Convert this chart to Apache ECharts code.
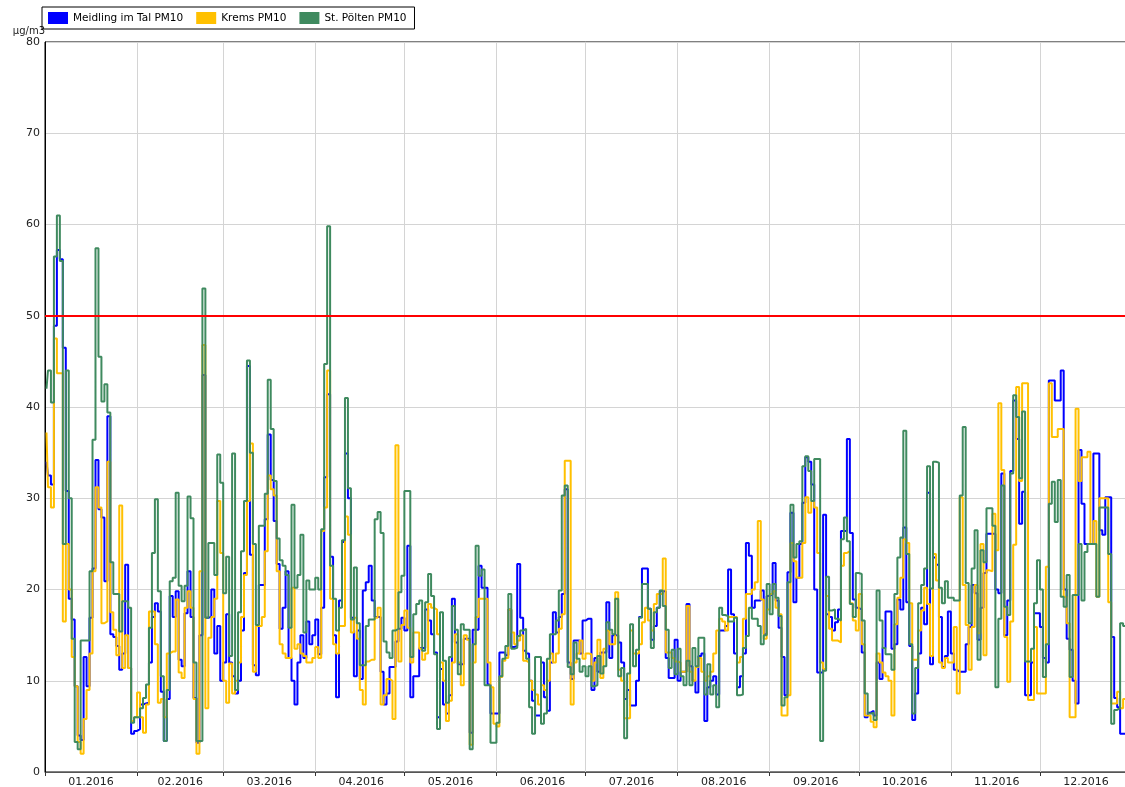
<!DOCTYPE html>
<html>
<head>
<meta charset="utf-8">
<script src="https://cdn.jsdelivr.net/npm/echarts@6/dist/echarts.min.js"></script>
<style>
html,body{margin:0;padding:0;background:#fff;}
#chart{width:1125px;height:787px;}
</style>
</head>
<body>
<div id="chart"></div>
<script>
// ---- data ----
const monthDays = [31,29,31,30,31,30,31,31,30,31,30,31];
const monthLabels = ['01.2016','02.2016','03.2016','04.2016','05.2016','06.2016','07.2016','08.2016','09.2016','10.2016','11.2016','12.2016'];
const seriesNames = ['Meidling im Tal PM10','Krems PM10','St. Pölten PM10'];
const limitValue = 50;

const meidling = [
34,32.5,31.5,48.9,57.2,56.2,46.5,30.8,19,16.7,9.4,4,3.5,12.6,9.4,16.9,22.3,34.2,28.8,27.9,20.9,39,15.1,14.8,13.8,11.2,13,22.7,11.4,4.2,4.5,
4.7,7.4,7.5,7.6,12,17,18.5,17.6,8.8,3.4,8,19.3,17,19.8,12.3,11.6,17.4,22,17,8.1,3.2,15,43.5,16.9,17,20,13,16,10,
12,17.3,12,10.5,8.6,10,15.5,21.8,44.5,23.8,11.7,10.6,20.5,20.5,27.7,37,32,27.5,22.8,15.7,18,22,12.5,10,7.4,12,15,12.5,16.5,14,15,
16.7,12.9,18,32.3,41.4,23.6,15,8.2,18.8,25.2,34.9,30,16.9,10.5,15.5,10.2,19.9,20.8,22.6,18.8,17,17,11,7.4,8.6,11.5,11.5,14.3,15.7,16.9,
15.5,24.8,8.2,10.5,10.5,13.6,13.6,17.8,16.6,15.1,13.1,6,11.3,7.4,6.4,8.4,19,14.2,11.8,11.8,14.6,14.6,4.3,15.6,15.6,22.6,20.2,20.2,9.6,6.4,6.4,
6.4,13.1,13.1,12.8,17.8,13.7,13.8,22.8,16.9,13.3,13,10,7.8,6.2,6.2,12,8.2,6.7,12,17.5,15.3,17,19.5,31,12,10.2,14.4,14.4,13,16.6,
16.8,16.8,9,12.5,11,13.1,13.1,18.6,12.5,15,15,14.2,12,8,9,7.3,7.3,10,17,22.3,22.3,17.9,14.5,16,18,19.8,19.8,12.5,10.3,10.3,14.5,
10,11,11,18.4,11.6,10,8.7,12.7,13,5.6,9.3,10,10.5,8.5,15.5,15.5,16,22.2,17.3,13,9.3,10.5,13,25.1,23.7,18,18.8,18.8,19.9,15.1,19.3,
19.5,22.9,18.8,15.8,12.6,8.4,21.9,28.4,18.6,21.3,25,29.5,34.5,34,31.5,20,10.9,10.9,28.2,17.3,17,15.5,16.4,17.8,26.4,26.4,36.5,26.2,18.9,18,
17.8,13.1,6,6.5,6.7,6.2,12,10.2,13.6,17.6,17.6,13.5,14,18.9,17.8,26.8,18.6,13.8,5.7,8.6,13,18,16.2,30.6,11.8,23.5,22.7,17,11.5,12.7,17.6,
13,11.2,11,11,11,14,15.9,20.5,19.6,14.5,18,21.8,26.1,26.1,26.1,20,19.6,32.7,15,18.8,33,40.7,36.5,27.2,30.7,8.4,8.4,12,17.4,17.4,
15.9,12.5,12,42.9,42.9,40.7,40.7,44,20,14.6,13.4,10,7.5,35.3,29.4,25,25,25,34.9,34.9,26.5,26,30.1,30.1,14.8,8.1,7.1,4.2,4.2,6,8
];

const krems = [
37.2,31.2,29,47.5,43.7,43.7,16.5,25,20,12.6,9.4,3.3,2,5.8,9,13,22,31.2,29,16.3,16.5,34,17.5,15.6,12.8,29.2,11.4,15,11.4,5.6,6,
8.7,6,4.3,7.4,17.6,17.6,14,7.6,8,6,13,13.2,13.2,18.9,10.9,10.3,18,19.8,18,8,2,22,46.8,7,14.7,17,19,29.7,24,
10,7.6,11.9,8.6,10,12,17,21.6,29.7,36,11,16,16,17,24.2,32.5,31,30.3,22,14,13,12.5,12.5,20.2,13.5,14,13,12.7,12,12,12.5,
13.7,12.5,26.4,29,44,19,14,13,16,16,28,26,15.3,16.9,14.6,9,7.4,12.1,12.3,12.3,16.9,18,7.4,8.4,10.2,10,5.8,35.8,12.1,16.1,
17.7,15.8,12,15.3,15.3,13.5,12.3,13,18.4,18,17.8,15.1,12,10,5.6,7.8,12,15.1,12,9.5,15,14.5,3,12,17,19,19,19,12,9.3,5.3,
5,10.4,12.2,12.5,17.8,15.3,14,14.4,15,12.2,12,10,9,8.5,7.4,9.5,9,10,13,12,13,15.7,17.3,34.1,34.1,7.4,12,13,14.4,12.4,
13,12.9,10,12,14.5,10.3,13.5,15.5,14,14,19.7,11.2,10,5.9,5.9,15.5,13,13,14,16.4,18,16.6,15.5,18.4,19.5,19.5,23.4,13.1,13.1,12.5,12.1,
12,11,11,18.2,11,10,11.5,12.5,11,10,10.5,11,13,15.5,16.8,16.5,15.5,17,17,17,12,12.6,16.8,19.5,19.5,20,20.8,27.5,18.9,14.6,17.8,
19.5,19.8,18,17.3,6.2,6.2,8.4,25.1,23.1,21.3,21.3,25.1,30.1,28.4,29.7,29,24,12,11.3,19.3,15.7,14.4,14.4,14.2,22.6,24,24.2,18.5,16.6,15.5,
19.5,14,6.2,6.2,5.5,4.9,13,12,10.9,10.5,10,6.2,16.2,19.1,21.3,25.5,25.1,18.5,12.3,12.3,15.5,17.7,20.2,18.4,12.7,23.9,21,12,11.4,12.5,12,
12,15.9,8.6,30.1,20.5,16.1,11.2,15.9,20.5,15.2,25,12.8,22.1,22,28.3,24.3,40.4,33.1,14.8,9.9,16.5,24.9,42.2,31.9,42.6,42.6,7.9,7.9,15.9,8.6,
8.6,8.6,22.5,42.6,36.7,36.7,37.6,37.6,19.2,16.3,6,6,39.8,31.9,34.5,34.5,35.1,25,27.5,19.2,30,30,30,18.6,7.5,7.5,8.8,7,8,9,10
];

const stpoelten = [
42,44,40.5,56.5,61,56,25,44,30,14.6,3.3,2.5,14.4,14.4,14.4,22,36.4,57.4,45.5,40.6,42.5,39.4,23,19.5,19.5,15.4,18.7,18.7,18,5.4,6,
6,7,8.1,9.6,15.8,24,29.9,19.8,10.5,3.4,9,20.9,21.3,30.6,20.4,18.7,20.4,30.2,27.8,12,3.4,3.4,53,16.9,25.1,25.1,21.6,34.8,31.7,
19.6,23.6,12.7,34.9,9,17.5,24.2,29.7,45.1,35,25,16.1,27,27,30.5,43,37.6,31.9,25.6,23.2,22.6,21.6,15.8,29.3,20.2,21.6,26,15.3,21,20,20,
21.3,20,26.6,44.7,59.8,22.6,19,15.5,18,25.4,41,31.1,16.7,22.4,16.3,11.7,11.7,16,16.7,16.7,27.7,28.5,26.2,14.3,13.1,12.5,15.5,15.7,19.7,21.5,
30.8,30.8,12.6,17.3,18.4,18.8,13.3,18.6,21.7,19.3,12.9,4.7,17.5,12.2,7.6,12.6,18.2,15.6,10.7,16.2,15.6,15.6,2.5,14,24.8,21.5,22.2,9.5,9.5,3.2,3.2,
5.4,10.5,12.4,13.8,19.5,13.5,13.6,14.9,15.5,15.7,12.4,7.1,4.2,12.6,12.6,5.3,6.4,12.4,15.1,15.1,16.6,19.9,30.3,31.4,11.5,10.7,14.2,12.4,11,11.6,
10.5,11.6,9.4,9.5,12.7,10.8,11.6,16.4,15.6,15.1,19,10.5,11.4,3.7,10.8,16.2,11.6,13.4,16.9,20.6,20.6,17.9,13.6,17.5,18,19.9,18.2,15.6,11.4,13.4,10.7,
13.5,10.5,9.5,12.2,9.5,13.6,11.6,14.7,14.7,8.5,11.8,8.5,9.5,7.1,18,17.2,17.1,16.5,16.5,16.9,8.4,8.5,13.6,14.9,18,16.8,16.8,16,14,15,20.6,
17.3,20.6,19.1,17.1,7.3,8.2,20.8,29.3,23.5,25,25.3,33.5,34.6,33,29.7,34.3,34.3,3.4,11.1,21.4,17.7,17.8,16.8,16.6,25.5,27.9,25.3,18.4,17,21.8,
21.7,16.6,8.6,6.4,6.5,5.7,19.9,16.6,13.6,12.9,12.9,11.2,19.5,23.5,25.7,37.4,23.9,14,6.4,11.4,18.5,20.5,22.3,33.5,20.1,34,33.9,20.2,18.5,20.9,19.1,
19.1,18.8,18.8,30.3,37.8,20.7,16.3,22.3,26.5,12.3,24.3,23,28.9,28.9,27,9.3,16.8,31.4,18.1,17.2,32.7,41.3,38.9,32.2,39.5,12.1,12.1,13.5,18.5,23.2,
20,10.4,14,29.4,31.8,27.4,32,19.2,18.1,21.6,10.4,19.4,19.4,25,18.8,24.1,25,25,25,19.2,29,29,29,23.9,5.3,6.8,7,16.3,16,15,14
];

// ---- categories (one per day) ----
const days = [];
const monthStart = new Set();
const monthMid = {};
monthDays.forEach((n, m) => {
  monthStart.add(days.length);
  monthMid[days.length + Math.floor(n / 2)] = monthLabels[m];
  for (let d = 1; d <= n; d++) {
    days.push('2016-' + String(m + 1).padStart(2, '0') + '-' + String(d).padStart(2, '0'));
  }
});

const colors = ['#0000ff', '#ffc000', '#3f8a5f'];
const font = 'DejaVu Sans, Verdana, sans-serif';

const chart = echarts.init(document.getElementById('chart'), null, {renderer: 'canvas'});
const mk = (name, data, color, extra) => Object.assign({
  name: name, type: 'line', data: data, step: 'middle',
  showSymbol: false, symbol: 'none', color: color,
  lineStyle: {width: 2, color: color},
  emphasis: {disabled: true}, animation: false
}, extra || {});

chart.setOption({
  animation: false,
  textStyle: {fontFamily: font},
  legend: {
    left: 42, top: 7, itemWidth: 20, itemHeight: 12, itemGap: 13,
    padding: [5, 8, 5, 6], borderColor: '#000', borderWidth: 1,
    icon: 'rect', selectedMode: false,
    textStyle: {fontSize: 10.5, color: '#000', fontFamily: font},
    data: seriesNames
  },
  grid: {left: 45, right: -7, top: 42, bottom: 15, show: true, borderColor: '#000', borderWidth: 1,
         containLabel: false, outerBoundsMode: 'none'},
  xAxis: {
    type: 'category', data: days, boundaryGap: true,
    axisLine: {lineStyle: {color: '#555', width: 1}},
    axisTick: {show: true, length: 4, interval: i => monthStart.has(i), lineStyle: {color: '#333'}},
    axisLabel: {interval: i => (i in monthMid), formatter: (v, i) => monthMid[i] || '', fontSize: 11, color: '#222', margin: 5},
    splitLine: {show: true, interval: i => monthStart.has(i) && i > 0, lineStyle: {color: '#d4d4d4', width: 1}}
  },
  yAxis: {
    type: 'value', min: 0, max: 80, interval: 10,
    name: 'µg/m3', nameLocation: 'end', nameGap: 5,
    nameTextStyle: {align: 'right', fontSize: 10, color: '#222', padding: [0, 0, 0, 0]},
    axisLine: {show: true, lineStyle: {color: '#000'}},
    axisTick: {show: false},
    axisLabel: {fontSize: 11, color: '#222', margin: 5},
    splitLine: {show: true, lineStyle: {color: '#d4d4d4', width: 1}}
  },
  series: [
    mk(seriesNames[0], meidling, colors[0]),
    mk(seriesNames[1], krems, colors[1]),
    mk(seriesNames[2], stpoelten, colors[2], {
      markLine: {
        silent: true, symbol: 'none', label: {show: false}, z: 10,
        lineStyle: {color: '#ff0000', width: 2, type: 'solid'},
        data: [{yAxis: limitValue}]
      }
    })
  ]
});
</script>
</body>
</html>
